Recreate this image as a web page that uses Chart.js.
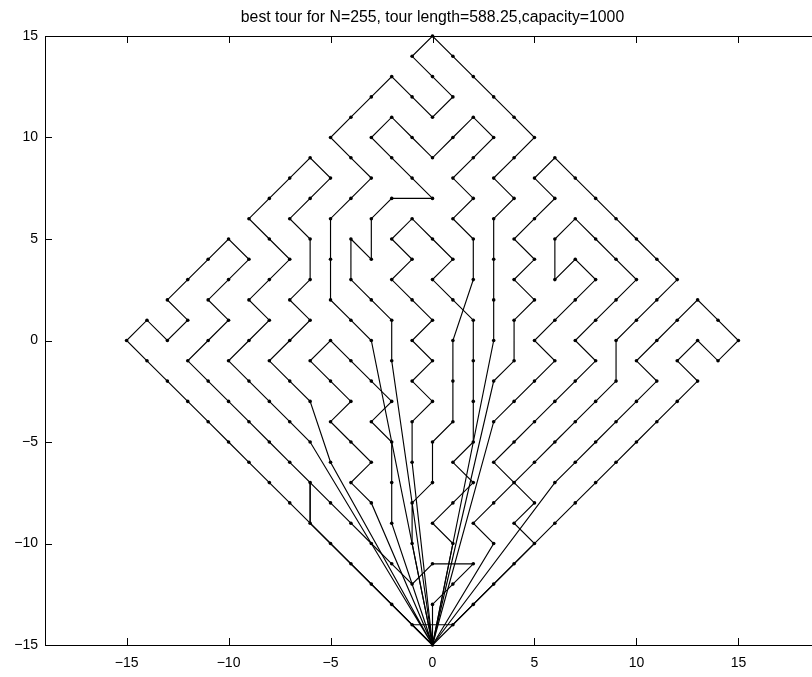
<!DOCTYPE html>
<html>
<head>
<meta charset="utf-8">
<script src="https://cdn.jsdelivr.net/npm/chart.js@4.4.0/dist/chart.umd.min.js"></script>
<style>
  html, body { margin: 0; padding: 0; background: #fff; overflow: hidden; }
  #wrap { width: 830px; height: 677px; }
</style>
</head>
<body>
<div id="wrap"><canvas id="c" width="830" height="677"></canvas></div>
<script>
// Capacitated routing result: every route leaves the depot at (0,-15) and returns to it.
const titleText = 'best tour for N=255, tour length=588.25,capacity=1000';
const xTicks = [-15, -10, -5, 0, 5, 10, 15];
const yTicks = [-15, -10, -5, 0, 5, 10, 15];
const depot = [0, -15];

const routeTop = [depot, [-3,0], [-4,1], [-5,2], [-5,4], [-5,6], [-4,7], [-3,8], [-4,9], [-5,10],
  [-4,11], [-3,12], [-2,13], [-1,12], [0,11], [1,12], [0,13], [-1,14], [0,15], [1,14], [2,13],
  [3,12], [4,11], [5,10], [4,9], [3,8], [4,7], [3,6], [3,4], [3,2], [3,0], depot];

const routeMidLeft = [depot, [-2,-1], [-2,1], [-3,2], [-4,3], [-4,5], [-3,4], [-3,6], [-2,7], [0,7],
  [-1,8], [-2,9], [-3,10], [-2,11], [-1,10], [0,9], [1,10], [2,11], [3,10], [2,9], [1,8], [2,7],
  [1,6], [2,5], [2,3], [1,0], [1,-2], [1,-4], [0,-5], [0,-7], [-1,-8], [-1,-10], depot];

const routeCentre = [depot, [-1,-6], [-1,-4], [0,-3], [-1,-2], [0,-1], [-1,0], [0,1], [-1,2], [-2,3],
  [-1,4], [-2,5], [-1,6], [0,5], [1,4], [0,3], [1,2], [2,1], [2,-1], [2,-3], [2,-5], [1,-6],
  [2,-7], [1,-8], [0,-9], [1,-10], depot];

const routeWest = [depot, [-5,-6], [-6,-3], [-7,-2], [-8,-1], [-7,0], [-6,1], [-7,2], [-6,3], [-6,5],
  [-7,6], [-6,7], [-5,8], [-6,9], [-7,8], [-8,7], [-9,6], [-8,5], [-7,4], [-8,3], [-9,2], [-8,1],
  [-9,0], [-10,-1], [-9,-2], [-8,-3], [-7,-4], [-6,-5], depot];

const routeFarWest = [depot, [-1,-14], [-2,-13], [-3,-12], [-4,-11], [-5,-10], [-6,-9], [-7,-8],
  [-8,-7], [-9,-6], [-10,-5], [-11,-4], [-12,-3], [-13,-2], [-14,-1], [-15,0], [-14,1], [-13,0],
  [-12,1], [-13,2], [-12,3], [-11,4], [-10,5], [-9,4], [-10,3], [-11,2], [-10,1], [-11,0], [-12,-1],
  [-11,-2], [-10,-3], [-9,-4], [-8,-5], [-7,-6], [-6,-7], [-6,-9], depot];

const routeSouth = [depot, [0,-13], [1,-12], [2,-11], [0,-11], [-1,-12], [-2,-11], [-3,-10], [-4,-9],
  [-5,-8], [-6,-7], [-6,-9], depot];

const routeSouthWest = [depot, [-3,-8], [-4,-7], [-3,-6], [-4,-5], [-5,-4], [-4,-3], [-5,-2], [-6,-1],
  [-5,0], [-4,-1], [-3,-2], [-2,-3], [-3,-4], [-2,-5], [-2,-7], [-2,-9], depot];

const routeEast = [depot, [3,-2], [4,-1], [4,1], [5,2], [4,3], [5,4], [4,5], [5,6], [6,7], [5,8],
  [6,9], [7,8], [8,7], [9,6], [10,5], [11,4], [12,3], [11,2], [10,1], [9,0], [9,-2], [8,-3],
  [7,-4], [6,-5], [5,-6], [3,-8], [2,-9], [3,-10], depot];

const routeMidEast = [depot, [3,-4], [4,-3], [5,-2], [6,-1], [5,0], [6,1], [7,2], [8,3], [7,4],
  [6,3], [6,5], [7,6], [8,5], [9,4], [10,3], [9,2], [8,1], [7,0], [8,-1], [7,-2], [6,-3], [5,-4],
  [4,-5], [3,-6], [4,-7], [5,-8], [4,-9], [5,-10], depot];

const routeFarEast = [depot, [6,-7], [7,-6], [8,-5], [9,-4], [10,-3], [11,-2], [10,-1], [11,0],
  [12,1], [13,2], [14,1], [15,0], [14,-1], [13,0], [12,-1], [13,-2], [12,-3], [11,-4], [10,-5],
  [9,-6], [8,-7], [7,-8], [6,-9], [4,-11], [3,-12], [2,-13], [1,-14], [-1,-14], depot];

const routes = [routeTop, routeMidLeft, routeCentre, routeWest, routeFarWest, routeSouth,
  routeSouthWest, routeEast, routeMidEast, routeFarEast];

// every stop, drawn once as a dot
const seen = new Set();
const stops = [];
routes.forEach(r => r.forEach(p => {
  const k = p[0] + ',' + p[1];
  if (!seen.has(k)) { seen.add(k); stops.push({ x: p[0], y: p[1] }); }
}));

const FONT = "'Liberation Sans', Arial, Helvetica, sans-serif";
const fmt = v => (v < 0 ? '\u2212' + Math.abs(v) : String(v));

const datasets = routes.map(r => ({
  data: r.map(p => ({ x: p[0], y: p[1] })),
  showLine: true,
  borderColor: '#000',
  borderWidth: 1.15,
  pointRadius: 0,
  tension: 0,
  clip: false
}));
datasets.push({
  data: stops,
  showLine: false,
  pointRadius: 1.8,
  pointBackgroundColor: '#000',
  pointBorderWidth: 0,
  clip: false
});

// box around the axes with inward tick marks on all four sides, plus the title
const framePlugin = {
  id: 'frame',
  afterDraw(chart) {
    const { ctx, chartArea: a, scales } = chart;
    const t = 7;
    ctx.save();
    ctx.strokeStyle = '#000';
    ctx.lineWidth = 1;
    ctx.beginPath();
    ctx.rect(Math.round(a.left) + 0.5, Math.round(a.top) + 0.5,
             Math.round(a.right - a.left), Math.round(a.bottom - a.top));
    xTicks.forEach(v => {
      const px = Math.round(scales.x.getPixelForValue(v)) + 0.5;
      ctx.moveTo(px, a.bottom); ctx.lineTo(px, a.bottom - t);
      ctx.moveTo(px, a.top); ctx.lineTo(px, a.top + t);
    });
    yTicks.forEach(v => {
      const py = Math.round(scales.y.getPixelForValue(v)) + 0.5;
      ctx.moveTo(a.left, py); ctx.lineTo(a.left + t, py);
      ctx.moveTo(a.right, py); ctx.lineTo(a.right - t, py);
    });
    ctx.stroke();
    ctx.fillStyle = '#000';
    ctx.font = '15.8px ' + FONT;
    ctx.textAlign = 'center';
    ctx.textBaseline = 'middle';
    ctx.fillText(titleText, (a.left + a.right) / 2, 18);
    ctx.restore();
  }
};

new Chart(document.getElementById('c'), {
  type: 'scatter',
  data: { datasets },
  options: {
    responsive: false,
    animation: false,
    devicePixelRatio: 1,
    layout: { padding: { top: 36, right: 10, left: 0, bottom: 0 } },
    plugins: { legend: { display: false }, tooltip: { enabled: false }, title: { display: false } },
    scales: {
      x: {
        type: 'linear', min: -19, max: 19,
        grid: { display: false, drawTicks: false },
        border: { display: false },
        ticks: { color: '#000', font: { family: FONT, size: 14 }, padding: 10, maxRotation: 0, autoSkip: false, callback: fmt },
        afterBuildTicks: s => { s.ticks = xTicks.map(v => ({ value: v })); },
        afterFit: s => { s.height = 32; }
      },
      y: {
        type: 'linear', min: -15, max: 15,
        grid: { display: false, drawTicks: false },
        border: { display: false },
        ticks: { color: '#000', font: { family: FONT, size: 14 }, padding: 7, autoSkip: false, callback: fmt },
        afterBuildTicks: s => { s.ticks = yTicks.map(v => ({ value: v })); },
        afterFit: s => { s.width = 45; }
      }
    }
  },
  plugins: [framePlugin]
});
</script>
</body>
</html>
